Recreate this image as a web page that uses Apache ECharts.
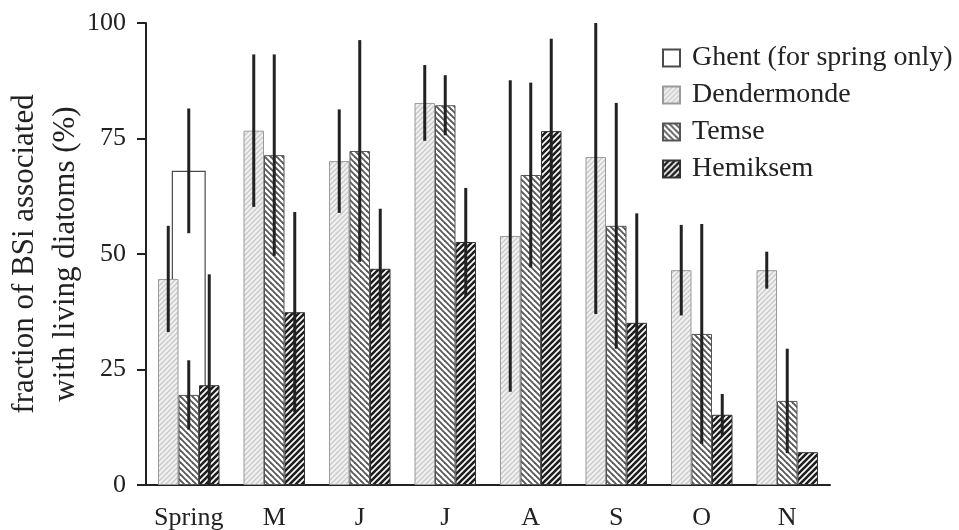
<!DOCTYPE html>
<html>
<head>
<meta charset="utf-8">
<script src="https://cdn.jsdelivr.net/npm/echarts@6/dist/echarts.min.js"></script>
<style>
  html, body { margin: 0; padding: 0; background: #fff; }
  #chart { width: 959px; height: 530px; }
</style>
</head>
<body>
<div id="chart"></div>
<script>
// Monthly categories (spring mean first)
var categories = ['Spring', 'M', 'J', 'J', 'A', 'S', 'O', 'N'];

// Fraction of BSi associated with living diatoms (%), mean values
var ghent       = [68.0, '-', '-', '-', '-', '-', '-', '-'];
var dendermonde = [44.6, 76.7, 70.1, 82.7, 53.9, 71.0, 46.5, 46.5];
var temse       = [19.5, 71.4, 72.3, 82.2, 67.1, 56.1, 32.7, 18.2];
var hemiksem    = [21.6, 37.4, 46.8, 52.6, 76.6, 35.1, 15.2, 7.1];

// Standard deviations (error bars)
var ghentErr       = [13.5, 0, 0, 0, 0, 0, 0, 0];
var dendermondeErr = [11.5, 16.5, 11.2, 8.2, 33.7, 34.0, 9.8, 4.0];
var temseErr       = [7.5, 21.8, 24.0, 6.5, 20.0, 26.6, 23.8, 11.3];
var hemiksemErr    = [24.0, 21.7, 13.0, 11.7, 20.0, 23.7, 4.5, 0];

// Axis ticks
var yTicks = { min: 0, max: 100, interval: 25 };

var FONT = "'Liberation Serif', 'Times New Roman', serif";
var INK = '#222';
var BAR_W = 20.5;     // width of each station bar
var GHENT_W = 34;     // the Ghent bar is wider and sits behind the group

// Hatch fills drawn on small repeating tiles
function hatch(size, bg, stroke, width, dir) {
  var c = document.createElement('canvas');
  c.width = size; c.height = size;
  var g = c.getContext('2d');
  g.fillStyle = bg;
  g.fillRect(0, 0, size, size);
  g.strokeStyle = stroke;
  g.lineWidth = width;
  g.lineCap = 'square';
  for (var k = -1; k <= 1; k++) {
    g.beginPath();
    if (dir === '/') {
      g.moveTo(k * size, size);
      g.lineTo(k * size + size, 0);
    } else {
      g.moveTo(k * size, 0);
      g.lineTo(k * size + size, size);
    }
    g.stroke();
  }
  return { image: c, repeat: 'repeat' };
}

var fillDender = hatch(5, '#f1f1f1', '#c9c9c9', 1.3, '/');
var fillTemse  = hatch(6, '#ffffff', '#5a5a5a', 1.9, '\\');
var fillHemik  = hatch(6, '#ffffff', '#1e1e1e', 2.6, '/');

function errorSeries(name, means, errs, offset, xAxisIndex) {
  var data = means.map(function (v, i) {
    return [i, v === '-' ? 0 : v, errs[i]];
  });
  return {
    type: 'custom',
    name: name,
    xAxisIndex: xAxisIndex,
    z: 5,
    encode: { x: 0, y: 1 },
    data: data,
    renderItem: function (params, api) {
      var cat = api.value(0), v = api.value(1), e = api.value(2);
      if (!e) return null;
      var lo = Math.max(yTicks.min, v - e);
      var hi = Math.min(yTicks.max, v + e);
      var pHi = api.coord([cat, hi]);
      var pLo = api.coord([cat, lo]);
      var x = pHi[0] + offset;
      return {
        type: 'line',
        shape: { x1: x, y1: pHi[1], x2: x, y2: pLo[1] },
        style: { stroke: INK, lineWidth: 3 }
      };
    }
  };
}

var chart = echarts.init(document.getElementById('chart'), null, { renderer: 'canvas' });

chart.setOption({
  animation: false,
  backgroundColor: '#fff',
  textStyle: { fontFamily: FONT, color: INK },
  grid: { left: 146, right: 129, top: 23, bottom: 45, containLabel: false, outerBoundsMode: 'none' },
  legend: {
    orient: 'vertical',
    left: 657,
    top: 39,
    itemWidth: 17,
    itemHeight: 17,
    itemGap: 9,
    icon: 'rect',
    selectedMode: false,
    data: ['Ghent (for spring only)', 'Dendermonde', 'Temse', 'Hemiksem'],
    textStyle: {
      fontFamily: FONT, fontSize: 28, color: INK, lineHeight: 28,
      padding: [0, 0, 0, 7]
    }
  },
  xAxis: [{
    type: 'category',
    data: categories,
    axisLine: { lineStyle: { color: INK, width: 2 } },
    axisTick: { show: false },
    axisLabel: { fontFamily: FONT, fontSize: 26, color: INK, margin: 20, interval: 0 }
  }, {
    type: 'category',
    data: categories,
    show: false
  }],
  yAxis: {
    type: 'value',
    min: yTicks.min,
    max: yTicks.max,
    interval: yTicks.interval,
    name: 'fraction of BSi associated\nwith living diatoms (%)',
    nameLocation: 'middle',
    nameRotate: 90,
    nameGap: 60,
    nameMoveOverlap: false,
    nameTextStyle: { fontFamily: FONT, fontSize: 31, color: INK, lineHeight: 41, align: 'center' },
    axisLine: { show: true, lineStyle: { color: INK, width: 2 } },
    axisTick: { show: true, length: 9, lineStyle: { color: INK, width: 2 } },
    axisLabel: { fontFamily: FONT, fontSize: 26, color: INK, margin: 20 },
    splitLine: { show: false }
  },
  series: [
    {
      type: 'bar',
      name: 'Ghent (for spring only)',
      xAxisIndex: 1,
      barWidth: GHENT_W,
      z: 1,
      data: ghent,
      itemStyle: { color: '#ffffff', borderColor: '#4a4a4a', borderWidth: 1.2 }
    },
    {
      type: 'bar',
      name: 'Dendermonde',
      barWidth: BAR_W,
      barGap: '0%',
      z: 2,
      data: dendermonde,
      itemStyle: { color: fillDender, borderColor: '#9a9a9a', borderWidth: 1 }
    },
    {
      type: 'bar',
      name: 'Temse',
      barWidth: BAR_W,
      barGap: '0%',
      z: 2,
      data: temse,
      itemStyle: { color: fillTemse, borderColor: '#555', borderWidth: 1 }
    },
    {
      type: 'bar',
      name: 'Hemiksem',
      barWidth: BAR_W,
      barGap: '0%',
      z: 2,
      data: hemiksem,
      itemStyle: { color: fillHemik, borderColor: '#333', borderWidth: 1 }
    },
    errorSeries('Ghent SD', ghent, ghentErr, 0, 1),
    errorSeries('Dendermonde SD', dendermonde, dendermondeErr, -BAR_W, 0),
    errorSeries('Temse SD', temse, temseErr, 0, 0),
    errorSeries('Hemiksem SD', hemiksem, hemiksemErr, BAR_W, 0)
  ]
});
</script>
</body>
</html>
